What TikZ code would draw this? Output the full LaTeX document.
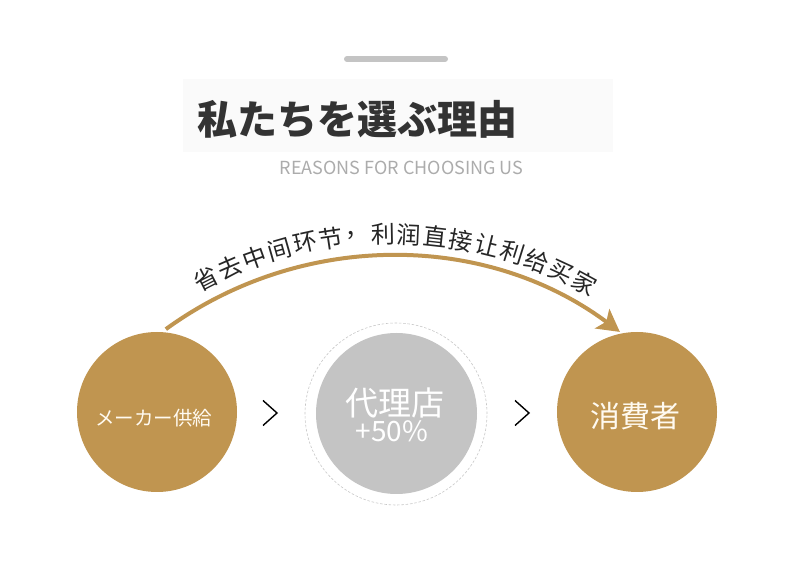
\documentclass[tikz,border=0pt]{standalone}
\usepackage{fontspec}
\newfontfamily\jpfont{Noto Sans CJK JP}
\newfontfamily\cnfont{Noto Sans CJK SC}
\usetikzlibrary{arrows.meta}
\definecolor{gold}{RGB}{192,149,80}
\definecolor{greyfill}{RGB}{196,196,196}
\definecolor{titlegrey}{RGB}{51,51,51}
\definecolor{subgrey}{RGB}{172,172,172}
\definecolor{cream}{RGB}{255,250,240}
\tikzset{
  goldcircle/.style={circle, fill=gold, minimum size=160pt, inner sep=0pt},
  greycircle/.style={circle, fill=greyfill, minimum size=161pt, inner sep=0pt},
  dashring/.style={circle, draw=black!22, line width=0.6pt, dash pattern=on 2.5pt off 1.8pt, minimum size=182pt, inner sep=0pt},
  arcchar/.style={inner sep=0pt, text=black!85, font=\cnfont\fontsize{24}{26}\selectfont},
  chevron/.style={line width=1.4pt, black, line cap=butt, line join=miter},
  circtext/.style={inner sep=0pt, text=cream},
}
\begin{document}
\begin{tikzpicture}[x=1pt,y=1pt]
\useasboundingbox (0,0) rectangle (790,586);
\fill[white] (0,0) rectangle (790,586);
% header
\fill[black!1.8] (183,434) rectangle (613,507);
\coordinate (barL) at (347,527);
\coordinate (barR) at (445,527);
\draw[line width=6pt, line cap=round, color=greyfill] (barL) -- (barR);
\node[inner sep=0pt, text=titlegrey, font=\jpfont\bfseries\fontsize{40}{44}\selectfont] (title) at (357,467) {私たちを選ぶ理由};
\node[inner sep=0pt, text=subgrey, font=\jpfont\fontsize{18}{22}\selectfont] (subtitle) at (401.5,418) {REASONS FOR CHOOSING US};
% circles
\node[goldcircle] (maker) at (157,174) {};
\node[circtext, font=\jpfont\fontsize{19.5}{22}\selectfont] (makertxt) at (153.5,168) {メーカー供給};
\node[dashring] (ring) at (396,172) {};
\node[greycircle] (agent) at (396.5,172.5) {};
\node[circtext, text=white, font=\jpfont\fontsize{33}{35}\selectfont] (agenttxt) at (394.5,183) {代理店};
\node[circtext, text=white, font=\jpfont\fontsize{28}{30}\selectfont] (pcttxt) at (392,155) {+50\%};
\node[goldcircle] (consumer) at (637,174) {};
\node[circtext, font=\jpfont\fontsize{30}{32}\selectfont] (consumertxt) at (635,170) {消費者};
% chevrons
\coordinate (c1a) at (263,185.5);
\coordinate (c1b) at (277,173);
\coordinate (c1c) at (263,160.5);
\draw[chevron] (c1a) -- (c1b) -- (c1c);
\coordinate (c2a) at (515,185.5);
\coordinate (c2b) at (529,173);
\coordinate (c2c) at (515,160.5);
\draw[chevron] (c2a) -- (c2b) -- (c2c);
% arc arrow
\path (391pt,-53pt) ++(126:383pt) coordinate (arcS);
\draw[gold, line width=4pt, -{Stealth[length=22pt,width=24pt,inset=5pt]}] (arcS) arc[start angle=126, end angle=53.3, radius=383pt];
% arc text
\foreach \c [count=\i from 0] in {省,去,中,间,环,节,，,利,润,直,接,让,利,给,买,家} {
  \pgfmathsetmacro\ang{117.1-\i*3.71}
  \pgfmathsetmacro\px{391+405*cos(\ang)}
  \pgfmathsetmacro\py{-53+405*sin(\ang)}
  \pgfmathsetmacro\rot{\ang-90}
  \node[arcchar, rotate=\rot] (t\i) at (\px,\py) {\c};
}
\end{tikzpicture}
\end{document}
